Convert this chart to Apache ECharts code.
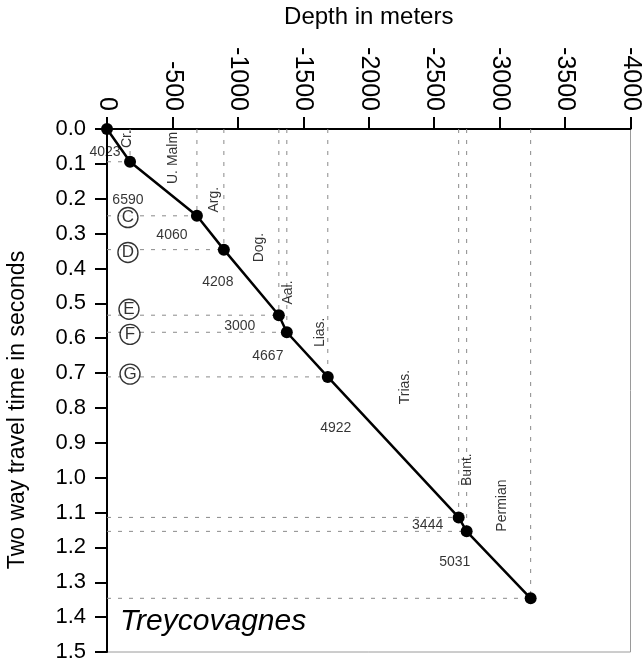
<!DOCTYPE html>
<html>
<head>
<meta charset="utf-8">
<title>Treycovagnes time-depth</title>
<script src="https://cdn.jsdelivr.net/npm/echarts@6/dist/echarts.min.js"></script>
<style>
  html, body { margin: 0; padding: 0; background: #fff; }
  #chart { width: 643px; height: 669px; }
</style>
</head>
<body>
<div id="chart"></div>
<script>
// time-depth points (depth in m, two way time in s)
const depth = [0, -176, -687, -893, -1313, -1374, -1687, -2687, -2748, -3237];
const twt = [0, 0.094, 0.249, 0.346, 0.534, 0.583, 0.711, 1.114, 1.154, 1.346];

// interval velocities, written between the points
const velocities = ["4023", "6590", "4060", "4208", "3000", "4667", "4922", "3444", "5031"];
const velDepth = [15, -160, -496, -847, -1015, -1229, -1748, -2450, -2657];
const velTwt = [0.066, 0.203, 0.303, 0.44, 0.566, 0.651, 0.857, 1.137, 1.243];

// formation names (vertical text)
const formations = ["Cr.", "U. Malm", "Arg.", "Dog.", "Aal.", "Lias.", "Trias.", "Bunt.", "Permian"];
const formDepth = [-153, -504, -817, -1160, -1382, -1626, -2275, -2748, -3023];
const formTwt = [0.029, 0.083, 0.203, 0.34, 0.469, 0.583, 0.74, 0.977, 1.08];

// circled horizon markers
const horizons = ["C", "D", "E", "F", "G"];
const horizonDepth = [-160, -160, -168, -176, -176];
const horizonTwt = [0.254, 0.354, 0.517, 0.589, 0.703];

const xTicks = { min: -4000, max: 0, interval: 500 };
const yTicks = { min: 0, max: 1.5, interval: 0.1 };

const FONT = "Liberation Sans, Arial, Helvetica, sans-serif";

const chart = echarts.init(document.getElementById("chart"));

// dashed guides from both axes to every point
const guides = [];
for (let i = 1; i < depth.length; i++) {
  guides.push([[depth[i], 0], [depth[i], twt[i]]]);
  guides.push([[0, twt[i]], [depth[i], twt[i]]]);
}
const guideSeries = guides.map((seg) => ({
  type: "line",
  data: seg,
  symbol: "none",
  silent: true,
  clip: false,
  z: 1,
  lineStyle: { color: "#8a8a8a", width: 1, type: [4, 7] },
}));

chart.setOption({
  animation: false,
  title: {
    text: "Treycovagnes",
    left: 120,
    top: 607,
    padding: 0,
    textStyle: { fontFamily: FONT, fontStyle: "italic", fontWeight: "normal", fontSize: 30, color: "#000" },
  },
  // y axis title sits a bit below the axis middle in the original
  graphic: [
    {
      type: "text",
      x: 18,
      y: 410,
      rotation: Math.PI / 2,
      style: {
        text: "Two way travel time in seconds",
        font: "23px " + FONT,
        fill: "#000",
        align: "center",
        verticalAlign: "middle",
      },
    },
  ],
  grid: {
    left: 107,
    right: 12,
    top: 129,
    bottom: 17,
    show: true,
    borderColor: "#9a9a9a",
    borderWidth: 1,
  },
  xAxis: {
    type: "value",
    position: "top",
    inverse: true,
    min: xTicks.min,
    max: xTicks.max,
    interval: xTicks.interval,
    name: "Depth in meters",
    nameLocation: "middle",
    nameGap: 100,
    nameTextStyle: { fontFamily: FONT, fontSize: 24, color: "#000" },
    axisLine: { show: true, onZero: false, lineStyle: { color: "#000", width: 2 } },
    axisTick: { show: true, length: 12, lineStyle: { color: "#000", width: 2 } },
    axisLabel: {
      rotate: 90,
      margin: 18,
      fontFamily: FONT,
      fontSize: 25,
      color: "#000",
      formatter: (v) => String(v),
    },
    splitLine: { show: false },
  },
  yAxis: {
    type: "value",
    inverse: true,
    min: yTicks.min,
    max: yTicks.max,
    interval: yTicks.interval,
    axisLine: { show: true, onZero: false, lineStyle: { color: "#000", width: 2 } },
    axisTick: { show: true, length: 12, lineStyle: { color: "#000", width: 2 } },
    axisLabel: {
      margin: 21,
      fontFamily: FONT,
      fontSize: 22,
      color: "#000",
      formatter: (v) => v.toFixed(1),
    },
    splitLine: { show: false },
  },
  series: [
    ...guideSeries,
    {
      type: "line",
      data: depth.map((d, i) => [d, twt[i]]),
      symbol: "circle",
      symbolSize: 12,
      clip: false,
      z: 5,
      itemStyle: { color: "#000" },
      lineStyle: { color: "#000", width: 2.5 },
    },
    {
      type: "scatter",
      data: velocities.map((v, i) => ({ value: [velDepth[i], velTwt[i]], label: { formatter: v } })),
      symbolSize: 0,
      clip: false,
      silent: true,
      z: 6,
      label: { show: true, position: "inside", fontFamily: FONT, fontSize: 14, color: "#000" },
    },
    {
      type: "scatter",
      data: formations.map((f, i) => ({ value: [formDepth[i], formTwt[i]], label: { formatter: f } })),
      symbolSize: 0,
      clip: false,
      silent: true,
      z: 6,
      label: { show: true, position: "inside", rotate: 90, fontFamily: FONT, fontSize: 14, color: "#000" },
    },
    {
      type: "scatter",
      data: horizons.map((h, i) => ({ value: [horizonDepth[i], horizonTwt[i]], label: { formatter: h } })),
      symbol: "circle",
      symbolSize: 20,
      clip: false,
      silent: true,
      z: 7,
      itemStyle: { color: "#fff", borderColor: "#000", borderWidth: 1.4 },
      label: { show: true, position: "inside", fontFamily: FONT, fontSize: 17, color: "#000" },
    },
  ],
});
</script>
</body>
</html>
